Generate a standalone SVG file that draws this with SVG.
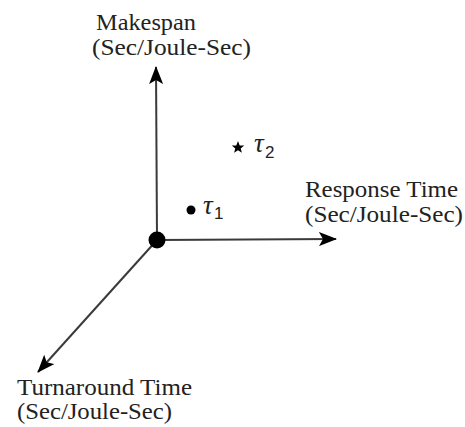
<svg xmlns="http://www.w3.org/2000/svg" width="465" height="427" viewBox="0 0 465 427">
<style>
.t{font-family:"Liberation Serif","Times New Roman",serif;font-size:24px;fill:#222}
.tau{font-family:"Liberation Serif","Times New Roman",serif;font-style:italic;font-size:27px;fill:#222}
.sub{font-family:"Liberation Sans",Arial,sans-serif;font-size:17px;fill:#222}
.ax{stroke:#3a3a3a;stroke-width:2;fill:none}
</style>
<defs>
<marker id="ah" markerUnits="userSpaceOnUse" markerWidth="18" markerHeight="14" refX="17" refY="7" orient="auto">
<path d="M0,0 L18,7 L0,14 L4,7 Z" fill="#000"/>
</marker>
</defs>
<rect width="465" height="427" fill="#fff"/>
<g id="connectors">
<line class="ax" x1="157" y1="240" x2="156" y2="67" marker-end="url(#ah)"/>
<line class="ax" x1="157" y1="240" x2="336" y2="239" marker-end="url(#ah)"/>
<line class="ax" x1="157" y1="240" x2="38" y2="372" marker-end="url(#ah)"/>
</g>
<g id="origin"><circle cx="157" cy="240" r="8.5" fill="#000"/></g>
<g id="makespan">
<text class="t" x="96" y="30" textLength="100" lengthAdjust="spacingAndGlyphs">Makespan</text>
<text class="t" x="92" y="55" textLength="159" lengthAdjust="spacingAndGlyphs">(Sec/Joule-Sec)</text>
</g>
<g id="response">
<text class="t" x="305" y="197" textLength="153" lengthAdjust="spacingAndGlyphs">Response Time</text>
<text class="t" x="305" y="222" textLength="158" lengthAdjust="spacingAndGlyphs">(Sec/Joule-Sec)</text>
</g>
<g id="turnaround">
<text class="t" x="17" y="395" textLength="175" lengthAdjust="spacingAndGlyphs">Turnaround Time</text>
<text class="t" x="17" y="419" textLength="155" lengthAdjust="spacingAndGlyphs">(Sec/Joule-Sec)</text>
</g>
<g id="tau1">
<circle cx="191" cy="210" r="4.5" fill="#000"/>
<text class="tau" x="203" y="214">τ</text>
<text class="sub" x="214" y="219">1</text>
</g>
<g id="tau2">
<path d="M238,141 L239.7,145.4 L244.2,145.6 L240.7,148.4 L241.9,152.8 L238,150.3 L234.1,152.8 L235.3,148.4 L231.8,145.6 L236.3,145.4 Z" fill="#000"/>
<text class="tau" x="254" y="152">τ</text>
<text class="sub" x="265" y="158">2</text>
</g>
</svg>
